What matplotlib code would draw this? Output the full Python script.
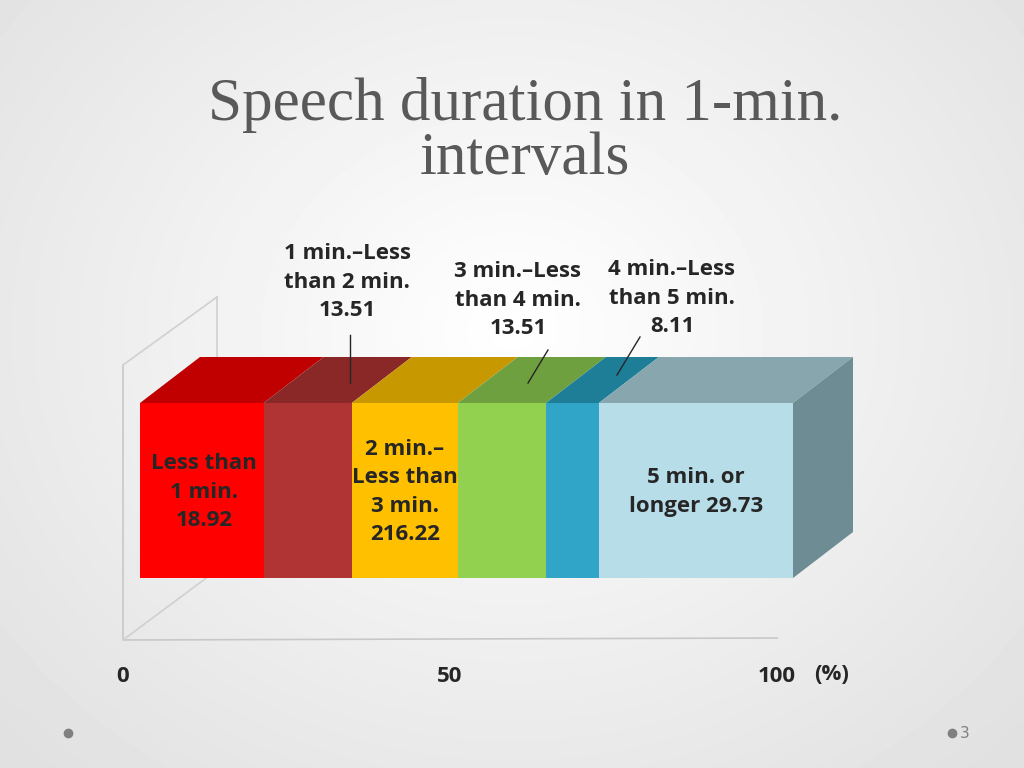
import numpy as np
import matplotlib.pyplot as plt
from matplotlib.patches import Polygon

# data (percent of speeches)
values = [18.92, 13.51, 16.22, 13.51, 8.11, 29.73]
labels = ["Less than\n1 min.\n18.92", "1 min.\u2013Less\nthan 2 min.\n13.51",
          "2 min.\u2013\nLess than\n3 min.\n216.22", "3 min.\u2013Less\nthan 4 min.\n13.51",
          "4 min.\u2013Less\nthan 5 min.\n8.11", "5 min. or\nlonger 29.73"]
front_colors = ["#FF0000", "#B03434", "#FFC000", "#92D050", "#31A5C8", "#B7DEE8"]
top_colors = ["#C00000", "#8A2828", "#C89800", "#6FA040", "#1E7E98", "#88A6AE"]
ticks = [0, 50, 100]

fig = plt.figure(figsize=(10.24, 7.68), dpi=100)
ax = fig.add_axes([0, 0, 1, 1])
ax.set_xlim(0, 1024)
ax.set_ylim(768, 0)
ax.axis("off")

# soft background
yy, xx = np.mgrid[0:768, 0:1024]
r = np.sqrt(((xx - 512) / 700) ** 2 + ((yy - 330) / 600) ** 2)
ax.imshow(1 - 0.12 * np.clip(r, 0, 1), cmap="gray", vmin=0, vmax=1,
          extent=(0, 1024, 768, 0), zorder=0)

x0, x1 = 140, 793          # front face of bar: 0% .. 100%
scale = (x1 - x0) / 100.0
ytop, ybot = 403, 578
dx, dy = 60, -46           # depth offset

# wall and floor
ax.plot([123, 123, 777], [365, 640, 638], color="#C8C8C8", lw=1.2, zorder=1)
ax.plot([123, 217], [365, 297], color="#D0D0D0", lw=1.2, zorder=1)
ax.plot([217, 217], [297, 560], color="#D0D0D0", lw=1.2, zorder=1)
ax.plot([123, 217], [640, 570], color="#D0D0D0", lw=1.2, zorder=1)

cum = np.concatenate([[0], np.cumsum(values)])
for i, v in enumerate(values):
    a = x0 + cum[i] * scale
    b = x0 + cum[i + 1] * scale
    ax.add_patch(Polygon([(a, ytop), (b, ytop), (b + dx, ytop + dy), (a + dx, ytop + dy)],
                         closed=True, fc=top_colors[i], ec="none", zorder=2))
    ax.add_patch(Polygon([(a, ytop), (b, ytop), (b, ybot), (a, ybot)],
                         closed=True, fc=front_colors[i], ec="none", zorder=3))
# right side face
ax.add_patch(Polygon([(x1, ytop), (x1 + dx, ytop + dy), (x1 + dx, ybot + dy), (x1, ybot)],
                     closed=True, fc="#6E8C94", ec="none", zorder=3))

font = dict(fontfamily="Open Sans", fontweight="bold", fontsize=16,
            color="#262626", ha="center", va="center", linespacing=1.45, zorder=5)
mid = lambda i: x0 + (cum[i] + cum[i + 1]) / 2 * scale
ax.text(mid(0) + 2, 492, labels[0], **font)
ax.text(mid(2), 492, labels[2], **font)
ax.text(mid(5), 492, labels[5], **font)
ax.text(347, 282, labels[1], **font)
ax.text(518, 300, labels[3], **font)
ax.text(672, 298, labels[4], **font)
ax.plot([350, 350], [335, 383], color="#262626", lw=1, zorder=5)
ax.plot([548, 528], [350, 383], color="#262626", lw=1, zorder=5)
ax.plot([640, 617], [337, 375], color="#262626", lw=1, zorder=5)

for t in ticks:
    ax.text(123 + t * (777 - 123) / 100, 677, str(t), **font)
ax.text(832, 674, "(%)", **font)

ax.text(525, 132, "Speech duration in 1-min.\nintervals", fontfamily="Liberation Serif",
        fontsize=44, color="#595959", ha="center", va="center", linespacing=0.95)

ax.plot([68], [733], "o", color="#808080", ms=6)
ax.plot([952], [733], "o", color="#808080", ms=6)
ax.text(960, 734, "3", fontsize=11, color="#808080", va="center")

fig.savefig("out.png", dpi=100)
